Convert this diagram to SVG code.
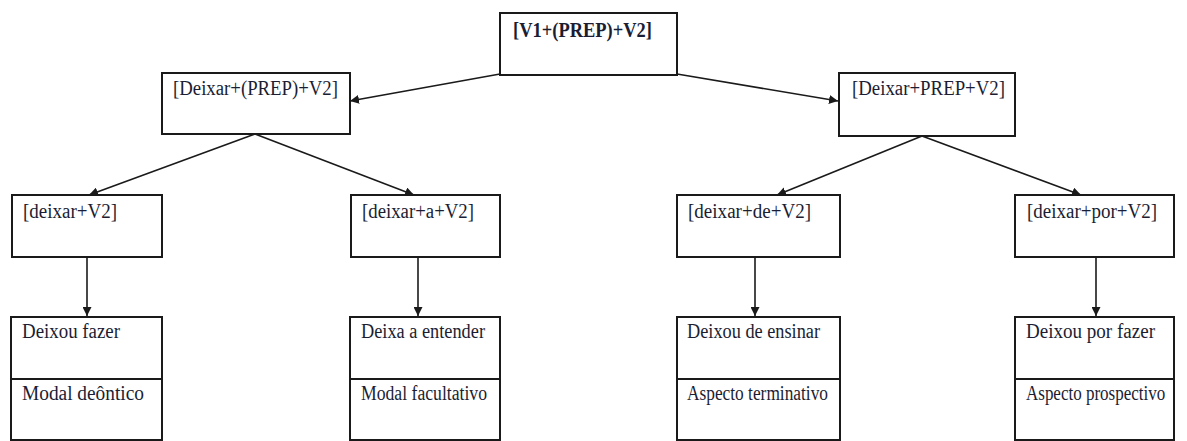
<svg xmlns="http://www.w3.org/2000/svg" width="1187" height="441" viewBox="0 0 1187 441">
  <style>
    .box { fill: #ffffff; stroke: #1a1a1a; stroke-width: 2; }
    .lbl { font-family: "Liberation Serif", "Times New Roman", serif; font-size: 20px; fill: #1b1d33; }
    .edge { stroke: #1a1a1a; stroke-width: 1.6; fill: none; marker-end: url(#arrow); }
  </style>
  <defs>
    <marker id="arrow" viewBox="0 0 10 10" refX="10" refY="5" markerWidth="9" markerHeight="9" markerUnits="userSpaceOnUse" orient="auto">
      <path d="M0,0 L10,5 L0,10 z" fill="#1a1a1a"/>
    </marker>
  </defs>
  <rect width="1187" height="441" fill="#ffffff"/>

  <!-- root pattern -->
  <g id="n-root">
    <rect class="box" x="500" y="13" width="177" height="62"/>
    <text class="lbl" x="513" y="37" font-weight="bold" textLength="139" lengthAdjust="spacingAndGlyphs">[V1+(PREP)+V2]</text>
  </g>

  <!-- second level -->
  <g id="n-deixar-opt">
    <rect class="box" x="162" y="73" width="188" height="61"/>
    <text class="lbl" x="173" y="95" textLength="165" lengthAdjust="spacingAndGlyphs">[Deixar+(PREP)+V2]</text>
  </g>
  <g id="n-deixar-prep">
    <rect class="box" x="839" y="73" width="176" height="63"/>
    <text class="lbl" x="852" y="95" textLength="153" lengthAdjust="spacingAndGlyphs">[Deixar+PREP+V2]</text>
  </g>

  <!-- third level -->
  <g id="n-deixar-v2">
    <rect class="box" x="12" y="195" width="150" height="62"/>
    <text class="lbl" x="23" y="218" textLength="94" lengthAdjust="spacingAndGlyphs">[deixar+V2]</text>
  </g>
  <g id="n-deixar-a">
    <rect class="box" x="351" y="195" width="149" height="62"/>
    <text class="lbl" x="362" y="218" textLength="112" lengthAdjust="spacingAndGlyphs">[deixar+a+V2]</text>
  </g>
  <g id="n-deixar-de">
    <rect class="box" x="677" y="195" width="163" height="62"/>
    <text class="lbl" x="688" y="218" textLength="123" lengthAdjust="spacingAndGlyphs">[deixar+de+V2]</text>
  </g>
  <g id="n-deixar-por">
    <rect class="box" x="1015" y="195" width="159" height="62"/>
    <text class="lbl" x="1027" y="218" textLength="130" lengthAdjust="spacingAndGlyphs">[deixar+por+V2]</text>
  </g>

  <!-- examples and readings -->
  <g id="n-ex-fazer">
    <rect class="box" x="11" y="317" width="151" height="62"/>
    <rect class="box" x="11" y="379" width="151" height="61"/>
    <text class="lbl" x="22" y="338" textLength="98" lengthAdjust="spacingAndGlyphs">Deixou fazer</text>
    <text class="lbl" x="22" y="400" textLength="122" lengthAdjust="spacingAndGlyphs">Modal deôntico</text>
  </g>
  <g id="n-ex-entender">
    <rect class="box" x="350" y="317" width="150" height="62"/>
    <rect class="box" x="350" y="379" width="150" height="61"/>
    <text class="lbl" x="361" y="338" textLength="124" lengthAdjust="spacingAndGlyphs">Deixa a entender</text>
    <text class="lbl" x="361" y="400" textLength="126" lengthAdjust="spacingAndGlyphs">Modal facultativo</text>
  </g>
  <g id="n-ex-ensinar">
    <rect class="box" x="677" y="317" width="163" height="62"/>
    <rect class="box" x="677" y="379" width="163" height="61"/>
    <text class="lbl" x="687" y="338" textLength="133" lengthAdjust="spacingAndGlyphs">Deixou de ensinar</text>
    <text class="lbl" x="687" y="400" textLength="141" lengthAdjust="spacingAndGlyphs">Aspecto terminativo</text>
  </g>
  <g id="n-ex-por-fazer">
    <rect class="box" x="1015" y="317" width="159" height="62"/>
    <rect class="box" x="1015" y="379" width="159" height="61"/>
    <text class="lbl" x="1026" y="338" textLength="129" lengthAdjust="spacingAndGlyphs">Deixou por fazer</text>
    <text class="lbl" transform="translate(1026 400) scale(0.85 1)">Aspecto prospectivo</text>
  </g>

  <!-- connectors -->
  <g id="connectors">
    <line class="edge" x1="500" y1="74" x2="350" y2="101"/>
    <line class="edge" x1="677" y1="74" x2="838" y2="101"/>
    <line class="edge" x1="255" y1="134" x2="89" y2="195"/>
    <line class="edge" x1="255" y1="134" x2="414" y2="195"/>
    <line class="edge" x1="922" y1="136" x2="777" y2="195"/>
    <line class="edge" x1="922" y1="136" x2="1081" y2="195"/>
    <line class="edge" x1="87" y1="257" x2="87" y2="316"/>
    <line class="edge" x1="418" y1="257" x2="418" y2="316"/>
    <line class="edge" x1="755" y1="257" x2="755" y2="316"/>
    <line class="edge" x1="1096" y1="257" x2="1096" y2="316"/>
  </g>
</svg>
